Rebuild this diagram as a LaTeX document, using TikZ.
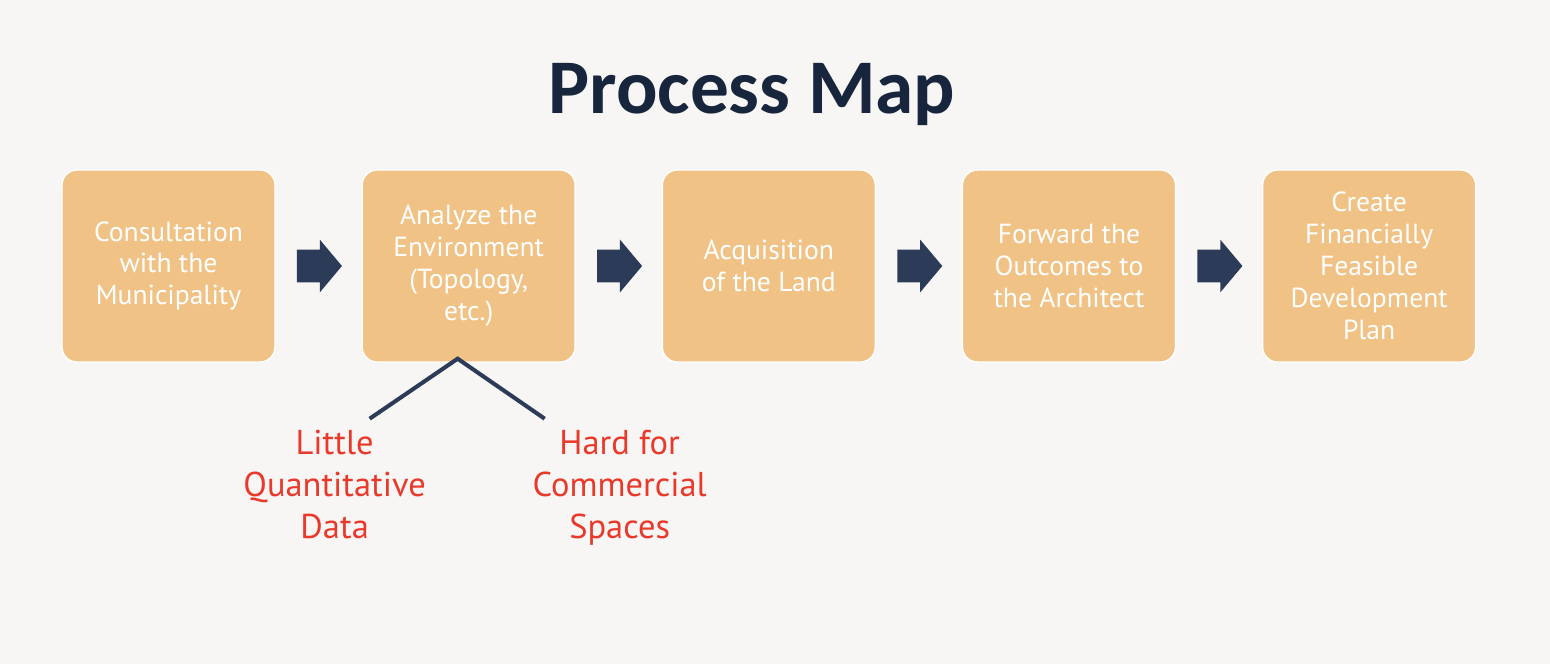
\documentclass[tikz,border=0pt]{standalone}
\usepackage{fontspec}
\setmainfont{PT Sans}
\newfontfamily\titlefont{Carlito}
\usetikzlibrary{positioning, shapes.arrows, calc}
\definecolor{paper}{HTML}{F7F6F4}
\definecolor{sand}{HTML}{F0C285}
\definecolor{navy}{HTML}{2C3B57}
\definecolor{deepnavy}{HTML}{17253D}
\definecolor{alertred}{HTML}{E8392B}

\begin{document}
\begin{tikzpicture}[
  node distance=1.715cm,
  stepbox/.style={fill=sand, draw=white, line width=0.8pt, rectangle, rounded corners=0.3cm,
                  minimum width=4.26cm, minimum height=3.84cm, align=center, text=white,
                  font=\fontsize{15.7}{18.2}\selectfont, inner sep=2pt},
  flow/.style={single arrow, fill=navy, draw=none, inner xsep=0pt, inner ysep=0.32cm,
               minimum height=0.9cm, single arrow head extend=0.2cm,
               single arrow head indent=0pt, single arrow tip angle=100, xshift=-0.12cm},
  issue/.style={text=alertred, align=center, inner sep=0pt, anchor=north,
                font=\fontsize{19.6}{23.9}\selectfont}
]
\fill[paper] (0,0) rectangle (31,-13.28);

\node[font=\titlefont\bfseries\fontsize{44}{50}\selectfont, text=deepnavy, anchor=base]
  (title) at (15.04,-2.26) {Process Map};

\node[stepbox] (consult) at (3.37,-5.32) {Consultation\\with the\\Municipality};
\node[stepbox, right=of consult] (analyze) {Analyze the\\Environment\\(Topology,\\etc.)};
\node[stepbox, right=of analyze] (acquire) {Acquisition\\of the Land};
\node[stepbox, right=of acquire] (forward) {Forward the\\Outcomes to\\the Architect};
\node[stepbox, right=of forward] (plan)    {Create\\Financially\\Feasible\\Development\\Plan};

\node[flow] (flow1) at ($(consult.east)!0.5!(analyze.west)$) {};
\node[flow] (flow2) at ($(analyze.east)!0.5!(acquire.west)$) {};
\node[flow] (flow3) at ($(acquire.east)!0.5!(forward.west)$) {};
\node[flow] (flow4) at ($(forward.east)!0.5!(plan.west)$) {};

% issues found while analyzing
\coordinate (fork)   at ($(analyze.south)+(-0.22,0.08)$);
\coordinate (leftend)  at ($(analyze.south)+(-1.98,-1.12)$);
\coordinate (rightend) at ($(analyze.south)+(1.52,-1.12)$);
\draw[navy, line width=2.3pt] (leftend) -- (fork) -- (rightend);

\node[issue] (little) at ($(analyze.south)+(-2.68,-1.34)$) {Little\\Quantitative\\Data};
\node[issue] (hard)   at ($(analyze.south)+(3.02,-1.34)$)  {Hard for\\Commercial\\Spaces};
\end{tikzpicture}
\end{document}
